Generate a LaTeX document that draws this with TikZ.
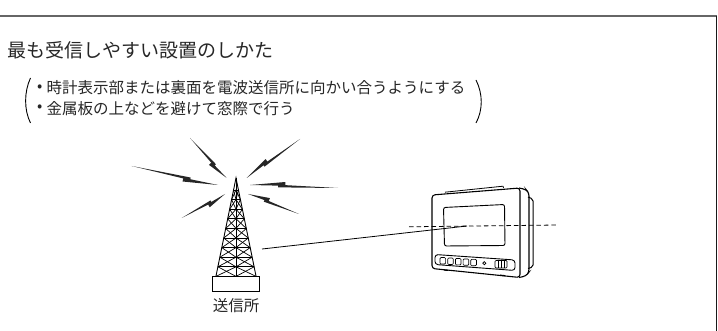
\documentclass[tikz,border=0pt]{standalone}
\usepackage{fontspec}
\newfontfamily\jp{Noto Sans CJK JP}
\usetikzlibrary{calc}

\tikzset{
  txt/.style={inner sep=0pt, anchor=west, text=black!85,
    font=\jp\fontsize{15.5}{18}\selectfont},
  wave/.style={fill=black!85},
  body/.style={line width=1.1pt, rounded corners=3pt},
}

% lightning mark from outer end #1 to inner end #2
\newcommand\wavebolt[2]{%
  \fill[wave] (#1) -- ($(#1)!0.68!(#2)!1.4pt!90:(#2)$)
    -- ($(#1)!0.68!(#2)!1.2pt!-90:(#2)$) -- cycle;
  \fill[wave] ($(#1)!0.6!(#2)!0.4pt!-90:(#2)$)
    -- ($(#1)!0.6!(#2)!4.2pt!-90:(#2)$) -- (#2) -- cycle;
}

\begin{document}
\begin{tikzpicture}[x=1pt, y=-1pt]
    \useasboundingbox (0,0) rectangle (718,331);

    % frame
    \draw[black!60, line width=1.3pt] (0,16) -- (716.5,16);
    \draw[black!90, line width=1.3pt] (716.5,16) -- (716.5,331);

    \node[txt, font=\jp\fontsize{19}{22}\selectfont] (head) at (7,50)
      {最も受信しやすい設置のしかた};
    \node[txt] (b1) at (37,88) {•};
    \node[txt] (line1) at (46.5,88) {時計表示部または裏面を電波送信所に向かい合うようにする};
    \node[txt] (b2) at (37,108.5) {•};
    \node[txt] (line2) at (46.5,108.5) {金属板の上などを避けて窓際で行う};

    \draw[line width=0.9pt] (30.5,78) .. controls (24,92) and (24,110) .. (30.5,123);
    \draw[line width=0.9pt] (476,80) .. controls (483,94) and (483,110) .. (476,123);

    % transmitter
    \coordinate (apex) at (236,178);
    \draw[line width=0.9pt] (216,276) -- (apex) -- (256,276);
    \draw[line width=0.7pt] (apex) -- (236,276);
    \foreach \k in {0,...,8} {
      \pgfmathsetmacro\ya{190+\k*9.6}
      \pgfmathsetmacro\yb{190+(\k+1)*9.6}
      \pgfmathsetmacro\wa{20*(\ya-178)/98}
      \pgfmathsetmacro\wb{20*(\yb-178)/98}
      \draw[line width=0.7pt] (236-\wa,\ya) -- (236+\wa,\ya);
      \draw[line width=0.7pt] (236-\wa,\ya) -- (236,\yb) -- (236+\wa,\ya);
      \draw[line width=0.7pt] (236-\wb,\yb) -- (236,\ya) -- (236+\wb,\yb);
    }
    \draw[line width=0.9pt] (212,276) rectangle (259,291.5);
    \node[txt, anchor=center] (site) at (236,306) {送信所};

    \wavebolt{190,138}{226.7,178}
    \wavebolt{131.7,166}{218,185}
    \wavebolt{181.7,218}{225,194}
    \wavebolt{300,139}{246.7,178}
    \wavebolt{338,188}{250,185}
    \wavebolt{299,214}{248,194}

    % clock: back, side, front
    \draw[line width=1pt, rounded corners=2pt] (528,197) -- (533,199) -- (533,267) -- (528,268.5);
    \draw[body] (519,188) -- (526,189.5) -- (529,193) -- (529,272) -- (526,276) -- (519,277.5);
    \draw[body] (432,195) -- (520,188) -- (520,277.5) -- (432,268.5) -- cycle;
    \draw[line width=0.8pt] (445,192.2) -- (503,186.2) -- (503.5,187.8);
    \draw[line width=1.2pt] (444,270) -- (448,270.4);
    \draw[line width=1.2pt] (500,275.2) -- (505,275.7);
    \draw[line width=0.9pt, rounded corners=2pt]
      (443.5,207.5) -- (504.5,204.5) -- (505,245.5) -- (444.5,246) -- cycle;
    \draw[line width=0.9pt, rounded corners=3pt]
      (435,254.5) -- (515,260) -- (515,270.5) -- (435,264.5) -- cycle;
    \foreach \i in {0,...,4}
      \draw[line width=0.7pt, rounded corners=1pt]
        (440+\i*7.7,257.6+\i*0.45) rectangle ++(5.6,6.4);
    \draw[line width=0.7pt] (484.3,263.2) circle (1.6);
    \draw[line width=0.7pt, rounded corners=1pt] (495,260.5) rectangle (507,268);
    \foreach \x in {498,501,504}
      \draw[line width=0.6pt] (\x,260.8) -- (\x,267.7);

    % direction of the signal
    \coordinate (mast) at (262,249);
    \coordinate (face) at (467,226);
    \draw[line width=0.8pt] (mast) -- (face);
    \draw[line width=0.8pt, dash pattern=on 4.5pt off 3pt] (409,226.8) -- (558,225);
\end{tikzpicture}
\end{document}
